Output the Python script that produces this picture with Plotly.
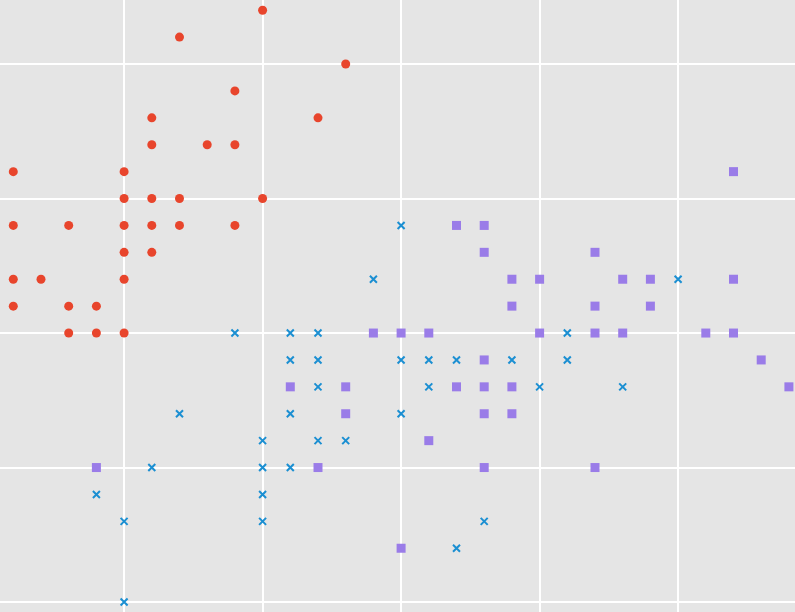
import plotly.graph_objects as go

# setosa-like group (red circles)
red_x = [5.5, 5.2, 5.8, 5.4, 5.1, 5.7, 5.1, 5.3, 5.4, 4.6, 5.0,
         5.0, 5.1, 5.2, 5.5, 4.6, 4.8, 5.0, 5.1, 5.2, 5.4, 5.0, 5.1,
         4.6, 4.7, 5.0, 4.6, 4.8, 4.9, 4.8, 4.9, 5.0]
red_y = [4.2, 4.1, 4.0, 3.9, 3.8, 3.8, 3.7, 3.7, 3.7, 3.6, 3.6,
         3.5, 3.5, 3.5, 3.5, 3.4, 3.4, 3.4, 3.4, 3.4, 3.4, 3.3, 3.3,
         3.2, 3.2, 3.2, 3.1, 3.1, 3.1, 3.0, 3.0, 3.0]

# versicolor-like group (blue crosses)
blue_x = [6.0, 5.9, 7.0, 5.4, 5.6, 5.7, 6.6,
          5.6, 5.7, 6.0, 6.1, 6.2, 6.4, 6.6,
          5.7, 6.1, 6.5, 6.8, 5.2, 5.6, 6.0, 5.5, 5.7, 5.8,
          5.1, 5.5, 5.6, 4.9, 5.5, 5.0, 5.5, 6.3, 6.2, 5.0]
blue_y = [3.4, 3.2, 3.2, 3.0, 3.0, 3.0, 3.0,
          2.9, 2.9, 2.9, 2.9, 2.9, 2.9, 2.9,
          2.8, 2.8, 2.8, 2.8, 2.7, 2.7, 2.7, 2.6, 2.6, 2.6,
          2.5, 2.5, 2.5, 2.4, 2.4, 2.3, 2.3, 2.3, 2.2, 2.0]

# virginica-like group (purple squares)
purple_x = [7.2, 6.2, 6.3, 6.3, 6.7, 6.4, 6.5, 6.8, 6.9, 7.2,
            6.4, 6.7, 6.9, 5.9, 6.0, 6.1, 6.5, 6.7, 6.8, 7.1, 7.2,
            6.3, 7.3, 5.6, 5.8, 6.2, 6.3, 6.4, 7.4, 5.8, 6.3, 6.4,
            6.1, 4.9, 5.7, 6.3, 6.7, 6.0]
purple_y = [3.6, 3.4, 3.4, 3.3, 3.3, 3.2, 3.2, 3.2, 3.2, 3.2,
            3.1, 3.1, 3.1, 3.0, 3.0, 3.0, 3.0, 3.0, 3.0, 3.0, 3.0,
            2.9, 2.9, 2.8, 2.8, 2.8, 2.8, 2.8, 2.8, 2.7, 2.7, 2.7,
            2.6, 2.5, 2.5, 2.5, 2.5, 2.2]

fig = go.Figure()
fig.add_trace(go.Scatter(x=red_x, y=red_y, mode="markers",
                         marker=dict(symbol="circle", size=9, color="#e8452c")))
fig.add_trace(go.Scatter(x=blue_x, y=blue_y, mode="markers",
                         marker=dict(symbol="x-thin", size=7, color="#1b8fd2",
                                     line=dict(width=2, color="#1b8fd2"))))
fig.add_trace(go.Scatter(x=purple_x, y=purple_y, mode="markers",
                         marker=dict(symbol="square", size=9, color="#9a7ce8")))

fig.update_layout(
    width=795, height=612,
    margin=dict(l=0, r=0, t=0, b=0),
    paper_bgcolor="#e5e5e5", plot_bgcolor="#e5e5e5",
    showlegend=False,
    xaxis=dict(range=[4.552, 7.422], dtick=0.5, tick0=5.0, showticklabels=False,
               gridcolor="white", gridwidth=2, zeroline=False),
    yaxis=dict(range=[1.963, 4.238], dtick=0.5, tick0=3.0, showticklabels=False,
               gridcolor="white", gridwidth=2, zeroline=False),
)

fig.write_html("out.html", config={"displayModeBar": False},
               post_script="document.body.style.margin='0px';")
